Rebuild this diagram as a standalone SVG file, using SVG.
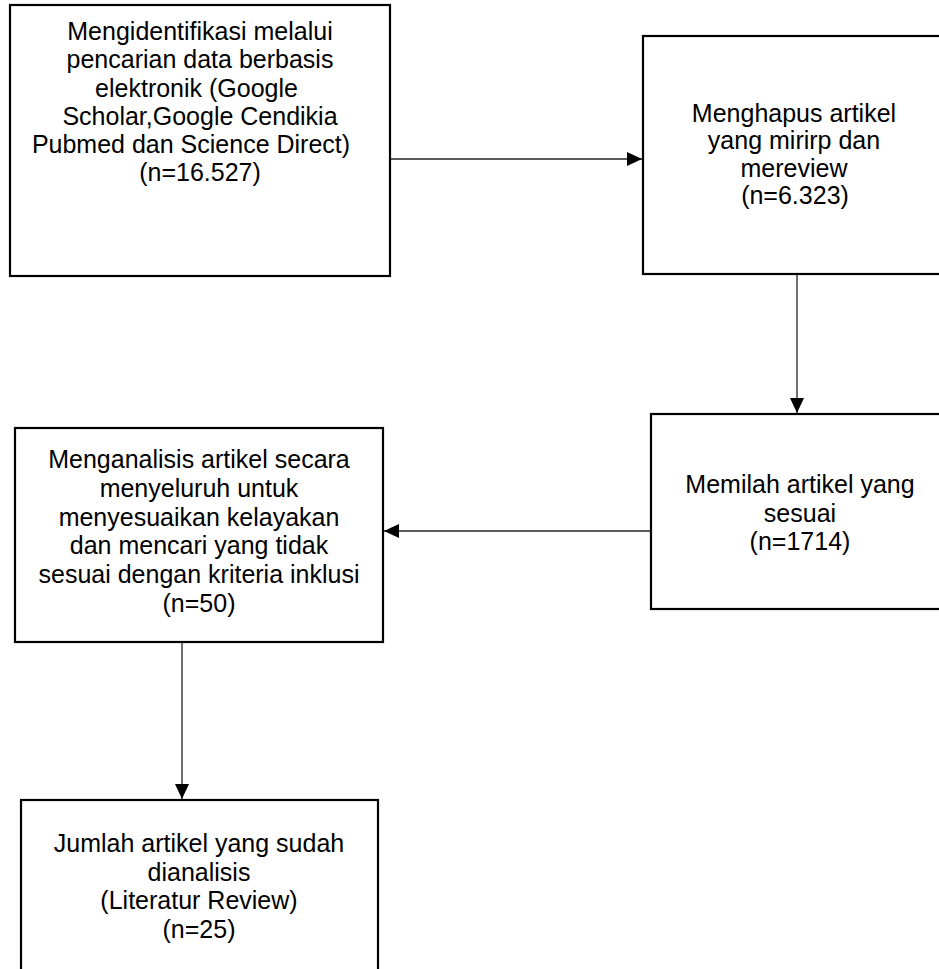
<svg xmlns="http://www.w3.org/2000/svg" width="939" height="969" viewBox="0 0 939 969">
<style>
.box{fill:#fff;stroke:#000;stroke-width:2.2}
.t{font-family:"Liberation Sans",Arial,sans-serif;font-size:25px;fill:#000;text-anchor:middle}
.c{stroke:#222;stroke-width:1.3;fill:none}
</style>
<defs>
<marker id="ah" viewBox="0 0 15 14" refX="15" refY="7" markerWidth="15" markerHeight="14" markerUnits="userSpaceOnUse" orient="auto">
<path d="M0,0 L15,7 L0,14 Z" fill="#000"/>
</marker>
</defs>
<rect width="939" height="969" fill="#fff"/>
<g id="connectors">
<line class="c" x1="391" y1="159" x2="642" y2="159" marker-end="url(#ah)"/>
<line class="c" x1="797" y1="275" x2="797" y2="413" marker-end="url(#ah)"/>
<line class="c" x1="650" y1="531" x2="384" y2="531" marker-end="url(#ah)"/>
<line class="c" x1="182" y1="643" x2="182" y2="799" marker-end="url(#ah)"/>
</g>
<g id="n1">
<rect class="box" x="10" y="5" width="380" height="271"/>
<text class="t"><tspan x="200" y="40">Mengidentifikasi melalui</tspan><tspan x="200" y="68">pencarian data berbasis</tspan><tspan x="200" y="96.5">elektronik (Google </tspan><tspan x="200" y="124.5">Scholar,Google Cendikia</tspan><tspan x="191" y="153">Pubmed dan Science Direct)</tspan><tspan x="200" y="181">(n=16.527)</tspan></text>
</g>
<g id="n2">
<rect class="box" x="643" y="36" width="320" height="238"/>
<text class="t"><tspan x="794" y="121.5">Menghapus artikel</tspan><tspan x="794" y="149">yang mirirp dan</tspan><tspan x="794" y="176.5">mereview</tspan><tspan x="795" y="204">(n=6.323)</tspan></text>
</g>
<g id="n3">
<rect class="box" x="651" y="414" width="320" height="195"/>
<text class="t"><tspan x="800" y="493">Memilah artikel yang</tspan><tspan x="800" y="521.5">sesuai</tspan><tspan x="800" y="550">(n=1714)</tspan></text>
</g>
<g id="n4">
<rect class="box" x="15" y="428" width="368" height="214"/>
<text class="t"><tspan x="199" y="468">Menganalisis artikel secara</tspan><tspan x="199" y="497">menyeluruh untuk</tspan><tspan x="199" y="525.5">menyesuaikan kelayakan</tspan><tspan x="199" y="554">dan mencari yang tidak</tspan><tspan x="199" y="583">sesuai dengan kriteria inklusi</tspan><tspan x="199" y="611.5">(n=50)</tspan></text>
</g>
<g id="n5">
<rect class="box" x="21" y="800" width="357" height="200"/>
<text class="t"><tspan x="199" y="852">Jumlah artikel yang sudah</tspan><tspan x="199" y="880.5">dianalisis</tspan><tspan x="199" y="909">(Literatur Review)</tspan><tspan x="199" y="937.5">(n=25)</tspan></text>
</g>
</svg>
